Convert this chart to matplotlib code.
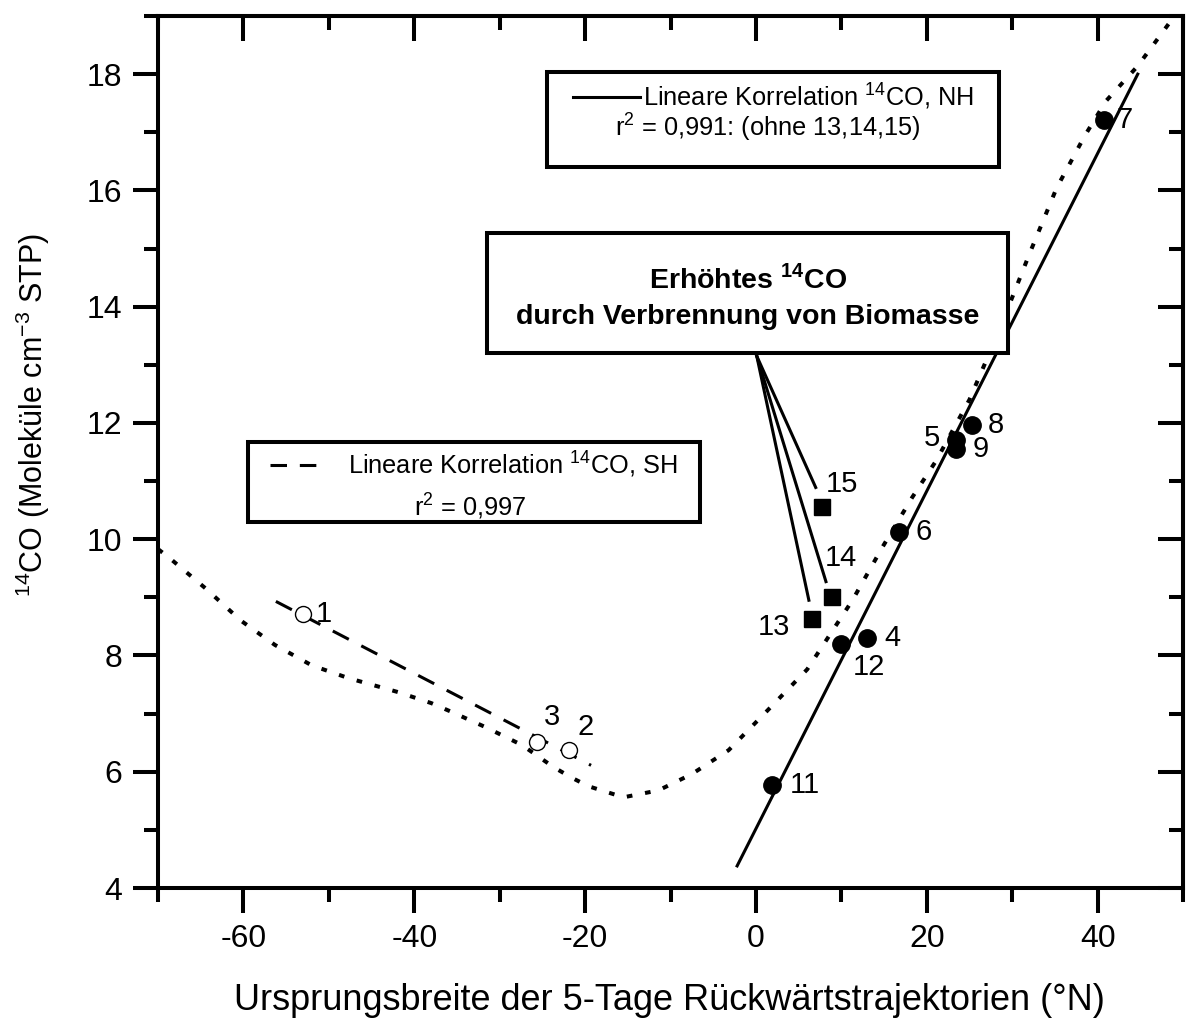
import matplotlib

matplotlib.use("Agg")
import matplotlib.pyplot as plt
from matplotlib.patches import Rectangle
from matplotlib.ticker import MultipleLocator

plt.rcParams["font.family"] = ["Liberation Sans", "DejaVu Sans"]
plt.rcParams["mathtext.fontset"] = "custom"
plt.rcParams["mathtext.rm"] = "Liberation Sans"
plt.rcParams["mathtext.bf"] = "Liberation Sans:bold"
plt.rcParams["axes.unicode_minus"] = False

# southern hemisphere samples (open circles)
sh_ids = ["1", "3", "2"]
sh_lat = [-53.0, -25.6, -21.9]
sh_co = [8.71, 6.51, 6.37]

# northern hemisphere samples (filled circles)
nh_ids = ["7", "8", "5", "9", "6", "4", "12", "11"]
nh_lat = [40.7, 25.3, 23.4, 23.4, 16.8, 13.0, 10.0, 1.9]
nh_co = [17.21, 11.96, 11.71, 11.55, 10.13, 8.30, 8.19, 5.77]

# biomass burning samples (squares)
bb_ids = ["13", "14", "15"]
bb_lat = [6.6, 8.9, 7.7]
bb_co = [8.62, 9.00, 10.56]

# fitted lines, end points
sh_fit_lat = [-56.2, -19.3]
sh_fit_co = [8.93, 6.11]
nh_fit_lat = [-2.2, 44.7]
nh_fit_co = [4.38, 18.0]

# dotted curve
curve_lat = [-70.0, -68.6, -64.4, -60.3, -56.3, -52.0, -47.7, -41.9, -38.0, -35.8,
             -31.7, -27.4, -23.7, -21.6, -19.6, -15.5, -11.4, -7.5, -3.2, 1.0,
             6.0, 11.3, 14.8, 18.3, 21.1, 25.0, 28.5, 32.0, 35.2, 38.5,
             41.0, 44.7, 47.5, 50.0]
curve_co = [9.83, 9.67, 9.15, 8.60, 8.18, 7.83, 7.61, 7.37, 7.18, 7.04,
            6.77, 6.46, 6.08, 5.90, 5.75, 5.56, 5.68, 5.96, 6.37, 7.00,
            7.76, 8.95, 9.86, 10.72, 11.35, 12.40, 13.60, 14.90, 16.04, 16.94,
            17.54, 18.14, 18.70, 19.20]

# callout: apex under the box and pointer ends near 13, 14, 15
call_apex = (0.1, 13.15)
call_end_lat = [6.2, 8.2, 7.0]
call_end_co = [8.95, 9.27, 10.89]

# label offsets in pixels (dx, dy)
label_off = {"1": (21, 0), "3": (15, 25), "2": (17, 23), "7": (21, 0), "8": (24, 0),
             "5": (-24, 2), "9": (25, 0), "6": (24, 0), "4": (25, 0), "12": (28, -23),
             "11": (33, 0), "13": (-38, -8), "14": (9, 39), "15": (20, 23)}

LW = 2.9
DOTS = (0, (1.4, 3.2))
DASH = (0, (5.9, 4.6))
LEG_FS = 18.3
W, H = 1187, 1032
fig = plt.figure(figsize=(W / 100, H / 100), dpi=100)
ax = fig.add_axes([158 / W, 1 - 888 / H, 1025 / W, 872 / H])

ax.plot(curve_lat, curve_co, color="black", lw=2.9, linestyle=DOTS, zorder=2)
ax.plot(sh_fit_lat, sh_fit_co, color="black", lw=2.2, linestyle=DASH, zorder=2)
ax.plot(nh_fit_lat, nh_fit_co, color="black", lw=2.2, zorder=2)

for xe, ye in zip(call_end_lat, call_end_co):
    ax.plot([call_apex[0], xe], [call_apex[1], ye], color="black", lw=2.2, zorder=2)

ax.plot(sh_lat, sh_co, "o", ms=11.5, mfc="white", mec="black", mew=1.0, zorder=3)
ax.plot(nh_lat, nh_co, "o", ms=12.5, color="black", zorder=3)
ax.plot(bb_lat, bb_co, "s", ms=11.5, color="black", zorder=3)

for ids, xs, ys in [(sh_ids, sh_lat, sh_co), (nh_ids, nh_lat, nh_co), (bb_ids, bb_lat, bb_co)]:
    for i, x, y in zip(ids, xs, ys):
        dx, dy = label_off[i]
        ax.annotate(i, (x, y), xytext=(dx, dy), textcoords="offset pixels",
                    ha="center", va="center", fontsize=21, zorder=4)

ax.set_xlim(-70, 50)
ax.set_ylim(4, 19)
ax.xaxis.set_major_locator(MultipleLocator(20))
ax.xaxis.set_minor_locator(MultipleLocator(10))
ax.yaxis.set_major_locator(MultipleLocator(2))
ax.yaxis.set_minor_locator(MultipleLocator(1))
ax.tick_params(which="major", direction="out", length=18, width=LW, labelsize=23, pad=8)
ax.tick_params(which="minor", direction="out", length=10, width=LW)
for s in ax.spines.values():
    s.set_linewidth(LW)

top = ax.secondary_xaxis("top")
top.xaxis.set_major_locator(MultipleLocator(20))
top.xaxis.set_minor_locator(MultipleLocator(10))
top.tick_params(which="major", direction="in", length=18, width=LW, labeltop=False)
top.tick_params(which="minor", direction="in", length=10, width=LW)
right = ax.secondary_yaxis("right")
right.yaxis.set_major_locator(MultipleLocator(2))
right.yaxis.set_minor_locator(MultipleLocator(1))
right.tick_params(which="major", direction="in", length=18, width=LW, labelright=False)
right.tick_params(which="minor", direction="in", length=10, width=LW)
for sec in (top, right):
    for s in sec.spines.values():
        s.set_linewidth(LW)

fig.text(669 / W, 1 - 1000 / H, "Ursprungsbreite der 5-Tage Rückwärtstrajektorien (°N)",
         ha="center", va="center", fontsize=26)
fig.text(33 / W, 1 - 415 / H, r"$^{\mathregular{14}}$CO (Moleküle cm$^{\mathregular{-3}}$ STP)",
         ha="center", va="center", rotation=90, fontsize=22)

# NH legend box
ax.add_patch(Rectangle((0.3795, 0.8268), 0.441, 0.109, transform=ax.transAxes,
                       fill=True, fc="white", ec="black", lw=LW, zorder=5))
ax.plot([0.405, 0.470], [0.9071, 0.9071], transform=ax.transAxes, color="black", lw=2.2, zorder=6)
ax.text(0.473, 0.9071, r"Lineare Korrelation $^{\mathregular{14}}$CO, NH", transform=ax.transAxes,
        ha="left", va="center", fontsize=LEG_FS, zorder=6)
ax.text(0.595, 0.8716, r"r$^{\mathregular{2}}$ = 0,991: (ohne 13,14,15)", transform=ax.transAxes,
        ha="center", va="center", fontsize=LEG_FS, zorder=6)

# biomass burning box
ax.add_patch(Rectangle((0.321, 0.6135), 0.508, 0.1376, transform=ax.transAxes,
                       fill=True, fc="white", ec="black", lw=LW, zorder=5))
ax.text(0.5756, 0.698, r"Erhöhtes $^{\mathbf{14}}$CO", transform=ax.transAxes,
        ha="center", va="center", fontsize=20.5, fontweight="bold", zorder=6)
ax.text(0.5756, 0.6548, "durch Verbrennung von Biomasse", transform=ax.transAxes,
        ha="center", va="center", fontsize=20.5, fontweight="bold", zorder=6)

# SH legend box
ax.add_patch(Rectangle((0.0878, 0.4197), 0.441, 0.0918, transform=ax.transAxes,
                       fill=True, fc="white", ec="black", lw=LW, zorder=5))
ax.plot([0.1093, 0.1551], [0.4851, 0.4851], transform=ax.transAxes, color="black", lw=2.2,
        linestyle=(0, (5.4, 4.2)), zorder=6)
ax.text(0.1854, 0.4851, r"Lineare Korrelation $^{\mathregular{14}}$CO, SH", transform=ax.transAxes,
        ha="left", va="center", fontsize=LEG_FS, zorder=6)
ax.text(0.3044, 0.4369, r"r$^{\mathregular{2}}$ = 0,997", transform=ax.transAxes,
        ha="center", va="center", fontsize=LEG_FS, zorder=6)

fig.savefig("out.png", dpi=100)
